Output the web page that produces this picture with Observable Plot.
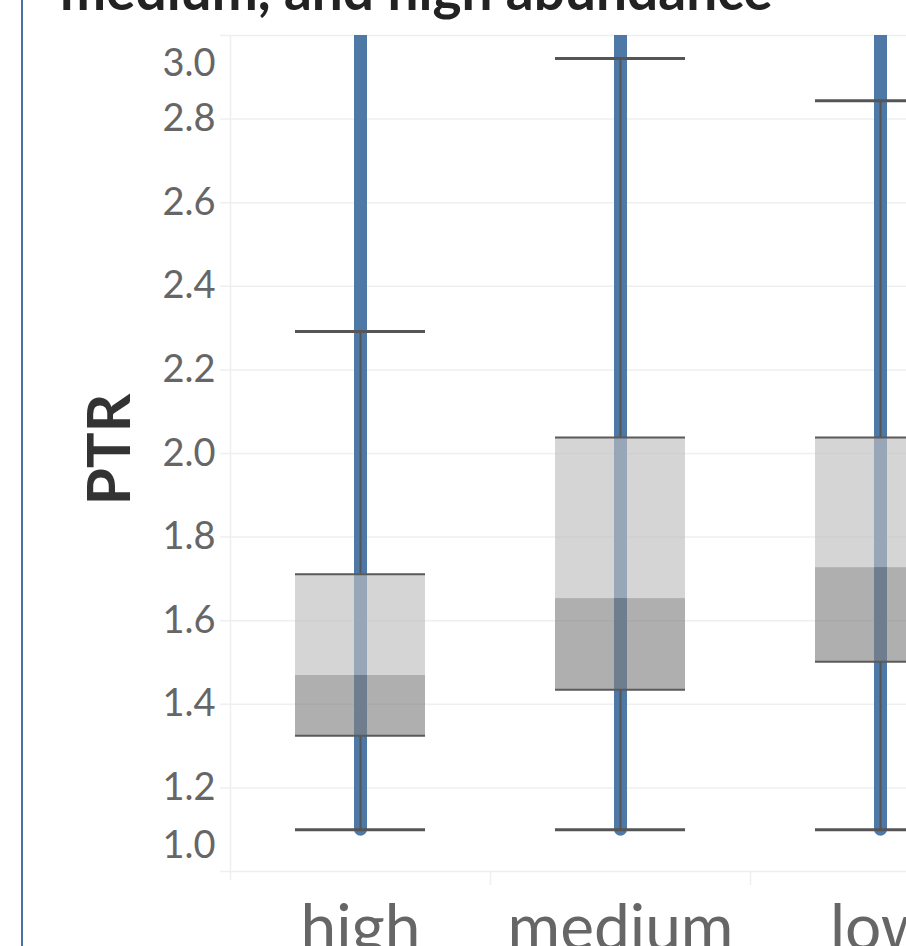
<!DOCTYPE html>
<html><head><meta charset="utf-8">
<script src="https://cdn.jsdelivr.net/npm/d3@7"></script>
<script src="https://cdn.jsdelivr.net/npm/@observablehq/plot@0.6"></script>
<style>
html,body{margin:0;padding:0;background:#fff;overflow:hidden;width:906px;height:946px}
#wrap{position:relative;width:906px;height:946px;overflow:hidden}
#border{position:absolute;left:21px;top:0;width:2px;height:946px;background:#4a6fa5}
#title{position:absolute;left:60px;top:-38px;font:700 55px Lato;line-height:55px;color:#222;white-space:nowrap}
#chart{position:absolute;left:0;top:0}
</style></head><body>
<div id="wrap"><div id="chart"></div><div id="border"></div><div id="title">medium, and high abundance</div></div>
<script>
const categories = ["high", "medium", "low"];
const whiskerLow = [1.10, 1.10, 1.10];
const q1 = [1.325, 1.435, 1.502];
const median = [1.469, 1.653, 1.727];
const q3 = [1.711, 2.038, 2.038];
const whiskerHigh = [2.292, 2.945, 2.844];
const ptrMin = [1.10, 1.10, 1.10];
const ptrMax = [3.3, 3.3, 3.3];
const yTicks = [1.0, 1.2, 1.4, 1.6, 1.8, 2.0, 2.2, 2.4, 2.6, 2.8, 3.0];

const rows = categories.map((c, i) => ({
  category: c, lo: whiskerLow[i], q1: q1[i], med: median[i], q3: q3[i],
  hi: whiskerHigh[i], pmin: ptrMin[i], pmax: ptrMax[i]
}));
const innerTicks = yTicks.filter(t => t > yTicks[0] && t < yTicks[yTicks.length - 1]);
const fmt = d3.format(".1f");
const grid = "#efefef";
const dark = "#555555";
const boxInset = 65;
const halfBand = 130;

const plot = Plot.plot({
  width: 1040, height: 946,
  marginTop: 35, marginBottom: 75, marginLeft: 230, marginRight: 30,
  style: {fontFamily: "Lato", maxWidth: "none", overflow: "visible", background: "transparent"},
  x: {type: "band", domain: categories, padding: 0},
  y: {domain: [yTicks[0], yTicks[yTicks.length - 1]]},
  marks: [
    Plot.gridY(yTicks, {stroke: grid, strokeOpacity: 1, strokeWidth: 1.5, insetLeft: -10}),
    Plot.ruleX([categories[0]], {x: d => d, dx: -halfBand, stroke: grid, strokeWidth: 1.5, insetBottom: -9}),
    Plot.ruleX(categories.slice(1), {x: d => d, dx: -halfBand, y1: yTicks[0], y2: yTicks[0], stroke: grid, strokeWidth: 1.5, insetBottom: -14}),
    // data points column
    Plot.ruleX(rows, {x: "category", y1: "pmin", y2: "pmax", stroke: "#4e79a7", strokeWidth: 13, strokeLinecap: "round", clip: true}),
    // whiskers
    Plot.ruleX(rows, {x: "category", y1: "q3", y2: "hi", stroke: dark, strokeWidth: 2}),
    Plot.ruleX(rows, {x: "category", y1: "lo", y2: "q1", stroke: dark, strokeWidth: 2}),
    // box
    Plot.barY(rows, {x: "category", y1: "q1", y2: "med", fill: "#828282", fillOpacity: 0.64, insetLeft: boxInset, insetRight: boxInset}),
    Plot.barY(rows, {x: "category", y1: "med", y2: "q3", fill: "#bfbfbf", fillOpacity: 0.655, insetLeft: boxInset, insetRight: boxInset}),
    Plot.tickY(rows, {x: "category", y: "q1", stroke: "#5a5a5a", strokeWidth: 2, insetLeft: boxInset, insetRight: boxInset}),
    Plot.tickY(rows, {x: "category", y: "q3", stroke: "#5a5a5a", strokeWidth: 2, insetLeft: boxInset, insetRight: boxInset}),
    // caps
    Plot.tickY(rows, {x: "category", y: "hi", stroke: dark, strokeWidth: 3, insetLeft: boxInset, insetRight: boxInset}),
    Plot.tickY(rows, {x: "category", y: "lo", stroke: dark, strokeWidth: 3, insetLeft: boxInset, insetRight: boxInset}),
    // axes
    Plot.axisY(innerTicks, {tickSize: 0, tickPadding: 15, fontSize: 38, fill: "#666", tickFormat: fmt, label: null}),
    Plot.axisY([yTicks[yTicks.length - 1]], {tickSize: 0, tickPadding: 15, dy: 28, fontSize: 38, fill: "#666", tickFormat: fmt, label: null}),
    Plot.axisY([yTicks[0]], {tickSize: 0, tickPadding: 15, dy: -26, fontSize: 38, fill: "#666", tickFormat: fmt, label: null}),
    Plot.axisX({tickSize: 0, tickPadding: 33, fontSize: 64, fill: "#666", label: null}),
    Plot.text(["PTR"], {text: d => d, frameAnchor: "left", textAnchor: "middle", rotate: -90, dx: -120, dy: -4, fontSize: 60, fontWeight: 700, fill: "#333"})
  ]
});
document.getElementById("chart").appendChild(plot);
</script>
</body></html>
